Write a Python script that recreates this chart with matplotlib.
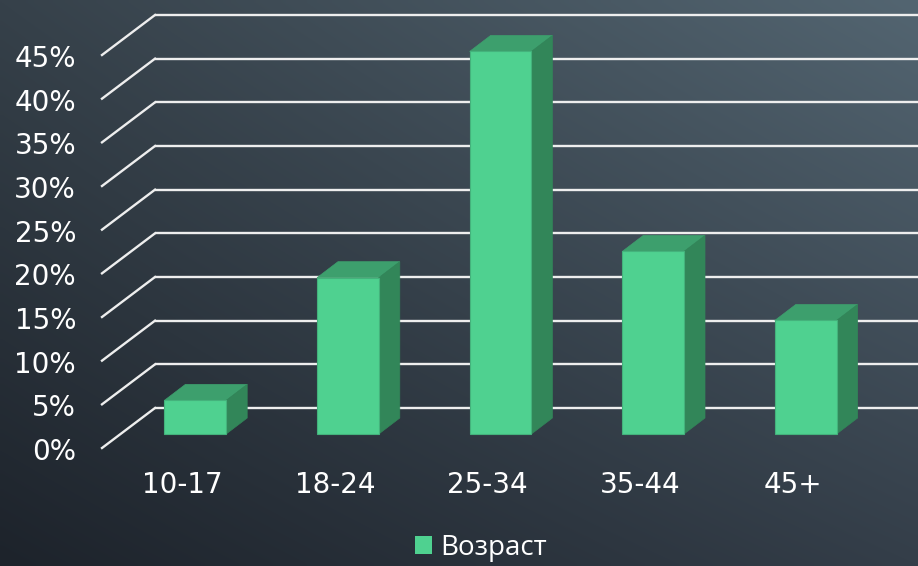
import numpy as np
import matplotlib
matplotlib.use("Agg")
import matplotlib.pyplot as plt
from matplotlib.transforms import offset_copy, IdentityTransform
from matplotlib.patches import Polygon, Patch
from matplotlib.lines import Line2D
from matplotlib.colors import to_rgb

# ---- data ----
categories = ["10-17", "18-24", "25-34", "35-44", "45+"]
values = [3.85, 17.9, 43.8, 20.9, 13.0]
yticks = [0, 5, 10, 15, 20, 25, 30, 35, 40, 45]
legend_label = "Возраст"

# ---- style ----
W, H, DPI = 918, 566, 100
FRONT = "#4fd190"
TOP = "#3d9f6d"
SIDE = "#328659"
EDGE = "#44b27c"
GRID = "#eeeeee"
TXT = "white"
TICK_FONT = ["DejaVu Sans"]
LEG_FONT = ["Open Sans", "DejaVu Sans"]

# depth offsets (pixels) relative to back wall
WALL_DX, WALL_DY = -53, -40        # front edge of floor / gridline diagonal
BF_DX, BF_DY = -36, -26            # bar front face
BB_DX, BB_DY = -15, -10            # bar back face
BAR_W = 0.405

fig = plt.figure(figsize=(W / DPI, H / DPI), dpi=DPI)

# background gradient
bg = fig.add_axes([0, 0, 1, 1])
bg.set_axis_off()
tl, tr = np.array(to_rgb("#36414a")), np.array(to_rgb("#536571"))
bl, br = np.array(to_rgb("#1d232b")), np.array(to_rgb("#343e49"))
ny, nx = 120, 200
u = np.linspace(0, 1, nx)[None, :, None]
v = np.linspace(0, 1, ny)[:, None, None]
img = (1 - v) * ((1 - u) * tl + u * tr) + v * ((1 - u) * bl + u * br)
bg.imshow(img, aspect="auto", extent=[0, 1, 0, 1], interpolation="bilinear")
bg.set_xlim(0, 1)
bg.set_ylim(0, 1)

# main axes = back wall
ax = fig.add_axes([155 / W, 158 / H, (W - 155) / W, (551 - 158) / H])
ax.set_xlim(-0.5, len(categories) - 0.5)
ax.set_ylim(0, 45)
ax.set_axis_off()
ax.patch.set_alpha(0)

ident = IdentityTransform()

def disp(x, y, dx=0.0, dy=0.0):
    px, py = ax.transData.transform((x, y))
    return px + dx, py + dy

# gridlines
for t in yticks:
    ax.plot([-0.5, len(categories) - 0.5], [t, t], color=GRID, lw=1.7,
            solid_capstyle="butt", clip_on=False, zorder=1)
    x0, y0 = disp(-0.5, t)
    ax.add_line(Line2D([x0 + WALL_DX, x0], [y0 + WALL_DY, y0], color=GRID,
                       lw=1.7, transform=ident, clip_on=False, zorder=1))
    ax.text(-0.5, t, f"{t}%", transform=offset_copy(ax.transData, fig=fig, x=WALL_DX - 26,
            y=WALL_DY - 4, units="dots"), ha="right", va="center", color=TXT,
            fontsize=20, family=TICK_FONT)

# bars
xs = np.arange(len(categories))
ax.bar(xs, values, width=BAR_W, color=FRONT, edgecolor=EDGE, linewidth=0.8,
       transform=offset_copy(ax.transData, fig=fig, x=BF_DX, y=BF_DY, units="dots"),
       clip_on=False, zorder=4)
for x, h in zip(xs, values):
    l, r = x - BAR_W / 2, x + BAR_W / 2
    top = [disp(l, h, BF_DX, BF_DY), disp(r, h, BF_DX, BF_DY),
           disp(r, h, BB_DX, BB_DY), disp(l, h, BB_DX, BB_DY)]
    side = [disp(r, 0, BF_DX, BF_DY), disp(r, h, BF_DX, BF_DY),
            disp(r, h, BB_DX, BB_DY), disp(r, 0, BB_DX, BB_DY)]
    ax.add_patch(Polygon(top, closed=True, facecolor=TOP, edgecolor=TOP, lw=0.5,
                         transform=ident, clip_on=False, zorder=3))
    ax.add_patch(Polygon(side, closed=True, facecolor=SIDE, edgecolor=SIDE, lw=0.5,
                         transform=ident, clip_on=False, zorder=3))

# category labels
for x, c in zip(xs, categories):
    ax.text(x, 0, c, transform=offset_copy(ax.transData, fig=fig, x=-49, y=-77, units="dots"),
            ha="center", va="center", color=TXT, fontsize=20, family=TICK_FONT)

# legend
leg = fig.legend(handles=[Patch(facecolor=FRONT, edgecolor="none")], labels=[legend_label],
                 loc="center", bbox_to_anchor=(481 / W, 18 / H), frameon=False,
                 handlelength=0.6, handleheight=0.6, handletextpad=0.3,
                 prop={"family": LEG_FONT, "size": 20})
for t in leg.get_texts():
    t.set_color(TXT)

fig.savefig("out.png", dpi=DPI)
